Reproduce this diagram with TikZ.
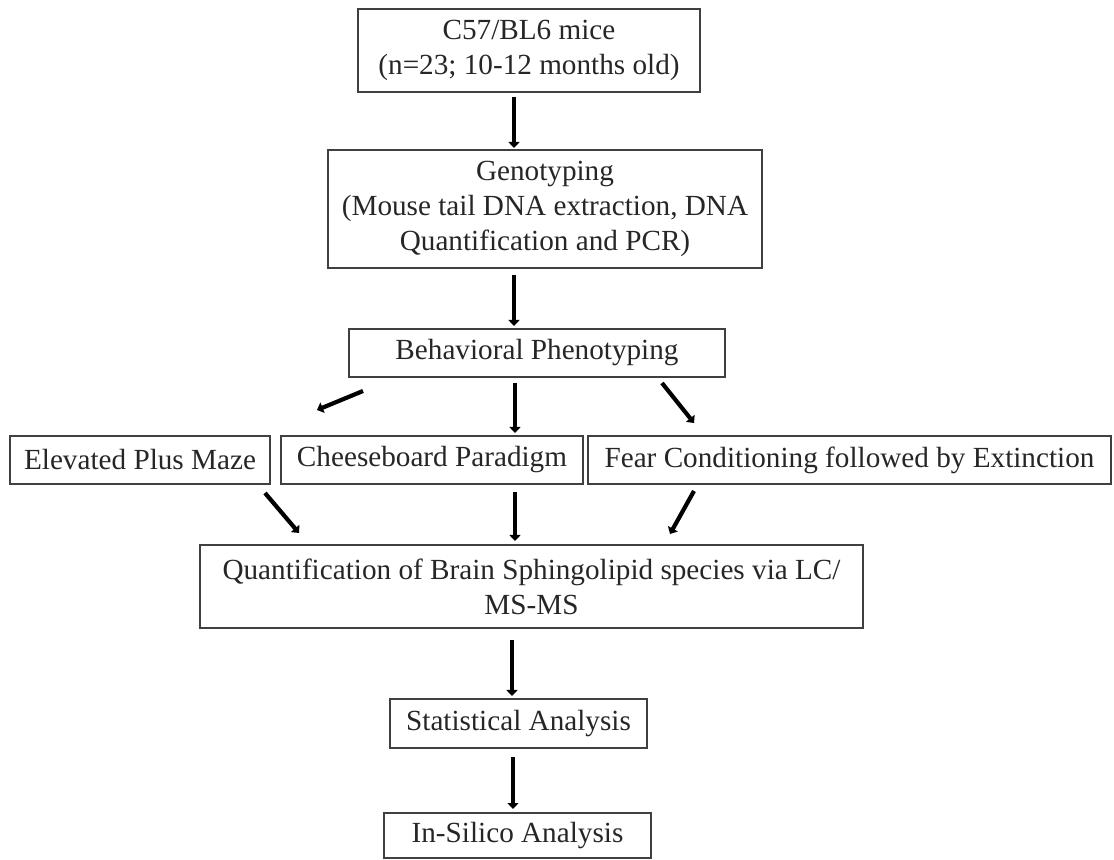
\documentclass[tikz,border=0pt]{standalone}
\usepackage{fontspec}
\setmainfont{Liberation Serif}
\usetikzlibrary{arrows.meta}
\tikzset{
  box/.style={draw=black!75, line width=0.75pt, inner sep=0pt, align=center,
    text=black!85, font=\fontsize{14.6}{17.5}\selectfont},
  arr/.style={line width=2.1pt, draw=black, -{Triangle[width=5.5pt,length=3pt]}}
}
\begin{document}
\begin{tikzpicture}[x=0.5pt,y=-0.5pt]
\useasboundingbox (0,0) rectangle (1114,860);
\node[box, minimum width=171pt, minimum height=41.5pt] (c57) at (529,50.5) {C57/BL6 mice\\(n=23; 10-12 months old)};
\node[box, minimum width=217pt, minimum height=59pt] (geno) at (545,209) {Genotyping\\(Mouse tail DNA extraction, DNA\\Quantification and PCR)};
\node[box, minimum width=188pt, minimum height=24pt] (behav) at (537,353) {Behavioral Phenotyping};
\node[box, minimum width=130pt, minimum height=24pt] (elev) at (140,460) {Elevated Plus Maze};
\node[box, minimum width=151pt, minimum height=24pt] (cheese) at (432,460) {Cheeseboard Paradigm};
\node[box, minimum width=261.5pt, minimum height=24pt] (fear) at (849.5,460) {Fear Conditioning followed by Extinction};
\node[box, minimum width=331.5pt, minimum height=41.5pt] (quant) at (531.5,586.5) {Quantification of Brain Sphingolipid species via LC/\\MS-MS};
\node[box, minimum width=128.5pt, minimum height=24.5pt] (stat) at (518.5,723.5) {Statistical Analysis};
\node[box, minimum width=133.5pt, minimum height=22.5pt] (insil) at (517.5,835.5) {In-Silico Analysis};
% arrow end points
\coordinate (a1s) at (514,97);  \coordinate (a1e) at (514,148);
\coordinate (a2s) at (514,275); \coordinate (a2e) at (514,326);
\coordinate (l1s) at (363,391); \coordinate (l1e) at (317,410);
\coordinate (m1s) at (515,383); \coordinate (m1e) at (515,433);
\coordinate (r1s) at (662,383); \coordinate (r1e) at (694,423);
\coordinate (l2s) at (265,493); \coordinate (l2e) at (299,533);
\coordinate (m2s) at (515,492); \coordinate (m2e) at (515,541);
\coordinate (r2s) at (694,491); \coordinate (r2e) at (670,534);
\coordinate (a3s) at (512,640); \coordinate (a3e) at (512,696);
\coordinate (a4s) at (513,757); \coordinate (a4e) at (513,809);
\draw[arr] (a1s) -- (a1e);
\draw[arr] (a2s) -- (a2e);
\draw[arr] (l1s) -- (l1e);
\draw[arr] (m1s) -- (m1e);
\draw[arr] (r1s) -- (r1e);
\draw[arr] (l2s) -- (l2e);
\draw[arr] (m2s) -- (m2e);
\draw[arr] (r2s) -- (r2e);
\draw[arr] (a3s) -- (a3e);
\draw[arr] (a4s) -- (a4e);
\end{tikzpicture}
\end{document}
